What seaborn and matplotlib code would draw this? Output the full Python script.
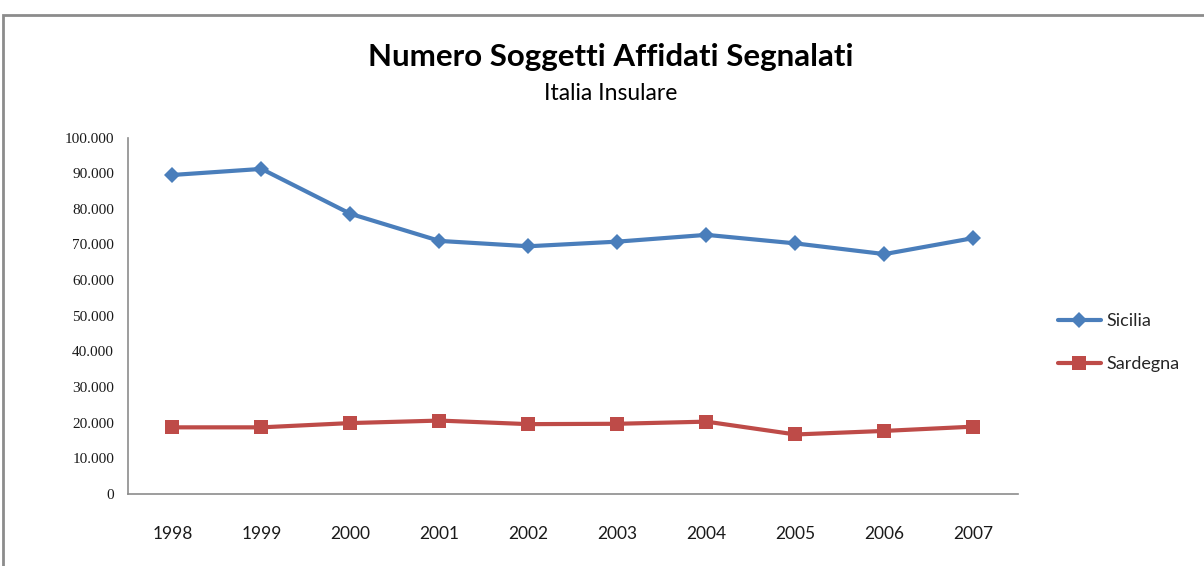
import matplotlib
matplotlib.use("Agg")
import matplotlib.pyplot as plt
import seaborn as sns
import pandas as pd
from matplotlib.patches import Rectangle
from matplotlib.ticker import FuncFormatter
from matplotlib.lines import Line2D

years = [1998, 1999, 2000, 2001, 2002, 2003, 2004, 2005, 2006, 2007]
sicilia = [89500, 91200, 78600, 71000, 69500, 70800, 72700, 70300, 67300, 71800]
sardegna = [18700, 18700, 19900, 20600, 19600, 19700, 20300, 16700, 17700, 18900]
series_names = ["Sicilia", "Sardegna"]
title = "Numero Soggetti Affidati Segnalati"
subtitle = "Italia Insulare"

df = pd.DataFrame({
    "Anno": years * 2,
    "Valore": sicilia + sardegna,
    "Serie": [series_names[0]] * len(years) + [series_names[1]] * len(years),
})

sns.set_style("white")
plt.rcParams['font.family'] = ['Lato', 'DejaVu Sans']

fig = plt.figure(figsize=(12.04, 5.66), dpi=100)
ax = fig.add_axes([0.1063, 0.1272, 0.8455 - 0.1063, 0.757 - 0.1272])

palette = {"Sicilia": "#4A7EBB", "Sardegna": "#BE4B48"}
markers = {"Sicilia": "D", "Sardegna": "s"}
sns.lineplot(data=df, x="Anno", y="Valore", hue="Serie", style="Serie",
             palette=palette, markers=markers, dashes=False, linewidth=3,
             markersize=9.5, markeredgewidth=0, ax=ax, legend=False)
for line in ax.lines:
    if line.get_marker() == "D":
        line.set_markersize(8.5)

ax.set_xlim(1997.5, 2007.5)
ax.set_ylim(0, 100000)
ax.set_xticks(years)
ax.set_xticklabels([str(y) for y in years])
ax.set_yticks(range(0, 100001, 10000))
ax.yaxis.set_major_formatter(FuncFormatter(lambda v, p: "0" if v == 0 else f"{int(v):,}".replace(",", ".")))
ax.set_xlabel("")
ax.set_ylabel("")
for s in ["top", "right"]:
    ax.spines[s].set_visible(False)
for s in ["left", "bottom"]:
    ax.spines[s].set_color("#8C8C8C")
    ax.spines[s].set_linewidth(1.2)
ax.tick_params(axis="x", length=0, pad=23, labelsize=12.5, labelcolor="#1a1a1a")
ax.tick_params(axis="y", length=0, pad=10, labelsize=11, labelcolor="#1a1a1a")
for lab in ax.get_yticklabels():
    lab.set_family(["Liberation Serif", "DejaVu Serif"])
    lab.set_fontsize(11)

fig.text(0.5075, 0.899, title, ha="center", va="center", fontsize=22.5, fontweight="bold", color="#000000")
fig.text(0.5075, 0.834, subtitle, ha="center", va="center", fontsize=16.5, color="#000000")

handles = [Line2D([], [], color=palette[n], marker=markers[n], linewidth=3,
                  markersize=9.5 if n == "Sardegna" else 8.5, markeredgewidth=0) for n in series_names]
leg = fig.legend(handles, series_names, loc="center left", bbox_to_anchor=(0.865, 0.395),
                 frameon=False, fontsize=13, handlelength=2.4, labelspacing=1.5, handletextpad=0.3)

fig.patches.append(Rectangle((0.0025, -0.1), 1.2, 0.974 + 0.1, transform=fig.transFigure,
                             fill=False, edgecolor="#8C8C8C", linewidth=2.0))

fig.savefig("out.png", dpi=100, facecolor="white")
